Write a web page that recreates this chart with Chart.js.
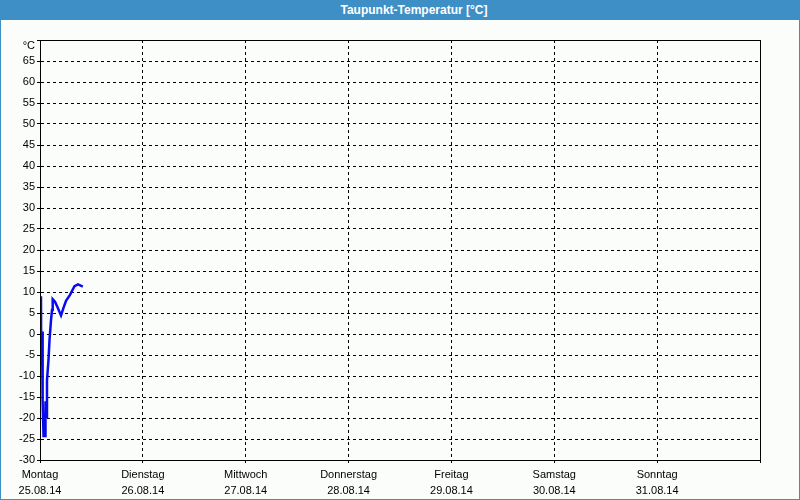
<!DOCTYPE html>
<html><head><meta charset="utf-8">
<script src="https://cdn.jsdelivr.net/npm/chart.js@4/dist/chart.umd.min.js"></script>
<style>
html,body{margin:0;padding:0;background:#fbfdfb;}
#wrap{position:relative;width:800px;height:500px;overflow:hidden;background:#fbfdfb;}
#c{position:absolute;left:0;top:0;}
#bar{position:absolute;left:0;top:0;width:800px;height:20px;background:#3d8fc6;color:#fff;
font:bold 12px "Liberation Sans",Arial,sans-serif;line-height:20px;text-align:center;box-sizing:border-box;padding-left:28px;}
#frame{position:absolute;left:0;top:0;width:800px;height:500px;box-sizing:border-box;border:1px solid #3d8fc6;pointer-events:none;}
</style></head>
<body><div id="wrap"><canvas id="c" width="800" height="500"></canvas><div id="bar">Taupunkt-Temperatur [°C]</div><div id="frame"></div></div>
<script>
const dayNames = ["Montag","Dienstag","Mittwoch","Donnerstag","Freitag","Samstag","Sonntag"];
const dayDates = ["25.08.14","26.08.14","27.08.14","28.08.14","29.08.14","30.08.14","31.08.14"];
const hours = [0.23,0.28,0.47,0.58,0.65,0.82,1.17,1.28,1.40,1.63,1.98,2.22,2.57,2.80,2.96,3.50,4.04,4.90,5.44,6.07,7.00,8.05,8.87,10.0];
const dewpoint = [9.0,-7.4,0.6,-7.5,-16.0,-24.3,-24.3,-16.0,-19.7,-11.0,-6.2,-1.4,3.3,5.7,8.3,7.7,6.5,4.4,6.1,7.9,9.3,11.4,11.8,11.3];
const yUnit = "°C";

const pts = hours.map((h,i)=>({x:h,y:dewpoint[i]}));
const font = {family:'"Liberation Sans", Arial, sans-serif', size:11};

const boxPlugin = {
  id:'box',
  afterDraw(chart){
    const {ctx, chartArea:a} = chart;
    ctx.save();
    ctx.setLineDash([]);
    ctx.strokeStyle='#000'; ctx.lineWidth=1;
    ctx.strokeRect(a.left+0.5,a.top+0.5,a.right-a.left,a.bottom-a.top);
    const ys = chart.scales.y;
    ctx.fillStyle='#000'; ctx.font='11px "Liberation Sans", Arial, sans-serif';
    ctx.textAlign='right'; ctx.textBaseline='middle';
    ctx.fillText(yUnit, a.left-5, ys.getPixelForValue(70)+6);
    ctx.restore();
  }
};

new Chart(document.getElementById('c'),{
  type:'line',
  data:{datasets:[{data:pts,borderColor:'#0a0aef',borderWidth:2.5,pointRadius:0,tension:0,fill:false}]},
  options:{
    responsive:false,animation:false,
    layout:{padding:{left:0,right:40,top:40,bottom:0}},
    plugins:{legend:{display:false},tooltip:{enabled:false}},
    scales:{
      x:{type:'linear',min:0,max:168,
        afterBuildTicks(s){s.ticks=[0,24,48,72,96,120,144,168].map(v=>({value:v}));},
        afterFit(s){s.height=40;},
        grid:{color:(c)=>c.tick&&c.tick.value===168?'rgba(0,0,0,0)':'#000',lineWidth:1,tickLength:3,tickColor:'#000',tickBorderDash:[]},
        border:{display:true,color:'#000',width:1,dash:[3,3]},
        ticks:{color:'#000',font:{...font,lineHeight:1.45},padding:4,maxRotation:0,autoSkip:false,
          callback(v){const i=Math.round(v/24);return i<7?[dayNames[i],dayDates[i]]:'';}}
      },
      y:{min:-30,max:70,
        afterBuildTicks(s){const t=[];for(let v=-30;v<=70;v+=5)t.push({value:v});s.ticks=t;},
        afterFit(s){s.width=40;},
        grid:{color:(c)=>c.tick&&c.tick.value===70?'rgba(0,0,0,0)':'#000',lineWidth:1,tickLength:3,tickColor:'#000',tickBorderDash:[]},
        border:{display:true,color:'#000',width:1,dash:[3,3]},
        ticks:{color:'#000',font:font,padding:2,autoSkip:false,callback(v){return v===70?'':String(v);}}
      }
    }
  },
  plugins:[boxPlugin]
});
</script></body></html>
